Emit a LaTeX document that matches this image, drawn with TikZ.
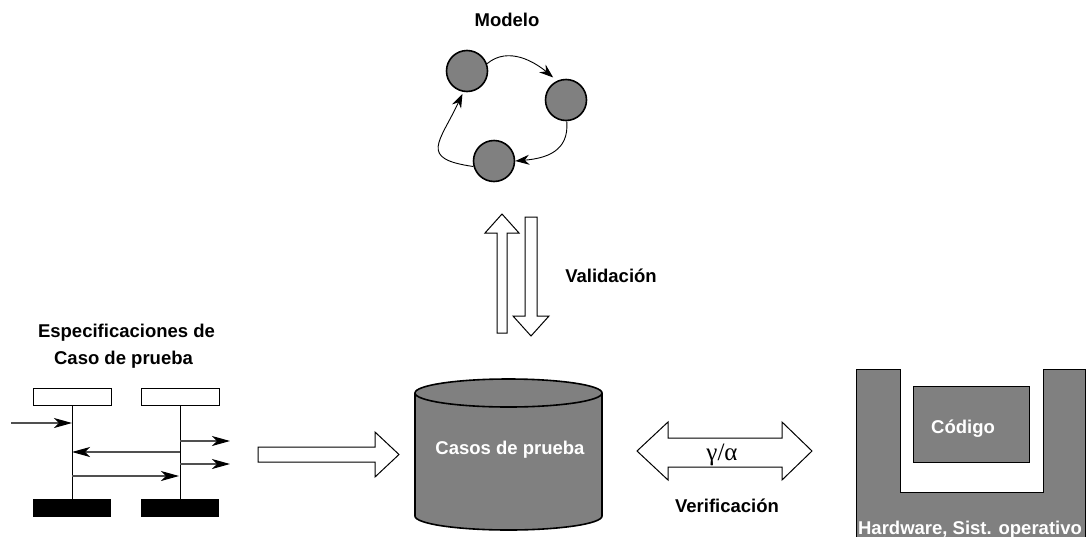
\documentclass[tikz,border=0pt]{standalone}
\usepackage{fontspec}
\setmainfont{Liberation Sans}
\newfontfamily\greekserif{Liberation Serif}
\usetikzlibrary{arrows.meta}
\definecolor{gfill}{HTML}{808080}
\definecolor{msggray}{HTML}{505050}
\tikzset{
  lbl/.style={font=\bfseries\fontsize{18.5}{22}\selectfont, inner sep=0pt, anchor=base},
  wlbl/.style={lbl, text=white},
  state/.style={circle, draw, line width=1.6pt, fill=gfill, minimum size=41pt, inner sep=0pt},
  loop/.style={line width=0.9pt, -{Stealth[length=14pt,width=10pt]}},
  blockarrow/.style={draw, line width=1pt, fill=white, line join=miter},
  lifebox/.style={draw, line width=0.9pt, fill=white, minimum width=78pt, minimum height=17pt, inner sep=0pt},
  lifebar/.style={fill=black, minimum width=78pt, minimum height=18pt, inner sep=0pt},
  msg/.style={draw=msggray, line width=1.1pt, -{Stealth[length=18pt,width=10pt,inset=5pt,black]}}
}
\begin{document}
\begin{tikzpicture}[x=1pt,y=-1pt]
\useasboundingbox (0,0) rectangle (1086,536);

% ---------- state model ----------
\node[lbl] (modelo) at (507,26) {Modelo};
\node[state] (c1) at (467,71) {};
\node[state] (c2) at (566,100) {};
\node[state] (c3) at (494,161) {};
\draw[loop, shorten >=5pt] (c1.20) to[out=40, in=140] (c2.115);
\draw[loop] (c2.-88) to[out=-85, in=5, looseness=1.2] (c3.east);
\draw[loop, shorten >=2pt] (c3.195) to[out=172, in=-115, looseness=1.9] (c1.-100);

% ---------- validation arrows ----------
\draw[blockarrow] (497,333) -- (497,233) -- (485,233) -- (502,214) -- (519,233)
  -- (507,233) -- (507,333) -- cycle;
\draw[blockarrow] (525,217) -- (525,316) -- (513,316) -- (531,336) -- (549,316)
  -- (537,316) -- (537,217) -- cycle;
\node[lbl] (valid) at (611,282) {Validación};

% ---------- test case store ----------
\fill[gfill] (415,393) -- (415,516) arc[start angle=180, end angle=0, x radius=93.5, y radius=14]
  -- (602,393) -- cycle;
\draw[line width=1.6pt] (415,393) -- (415,516) arc[start angle=180, end angle=0, x radius=93.5, y radius=14]
  -- (602,393);
\draw[line width=1.6pt, fill=gfill] (508.5,393) ellipse[x radius=93.5, y radius=14];
\node[wlbl] (db) at (510,454) {Casos de prueba};

% ---------- test case specification ----------
\node[lbl] (spec1) at (126.5,337.5) {Especificaciones de};
\node[lbl] (spec2) at (123.5,364) {Caso de prueba};
\node[lifebox] (h1) at (72,396.5) {};
\node[lifebox] (h2) at (180,396.5) {};
\node[lifebar] (f1) at (72,508) {};
\node[lifebar] (f2) at (180,508) {};
\draw[line width=0.9pt] (h1.south) -- (f1.north);
\draw[line width=0.9pt] (h2.south) -- (f2.north);
\coordinate (in0) at (11,423);
\coordinate (out1) at (230,441);
\coordinate (out2) at (230,464);
\coordinate (row1) at (0,452);
\coordinate (row2) at (0,476);
\draw[msg] (in0) -- (h1.south |- in0);
\draw[msg] (h2.south |- out1) -- (out1);
\draw[msg] (h2.south |- out2) -- (out2);
\draw[msg] (h2.south |- row1) -- (h1.south |- row1);
\draw[msg, shorten >=1pt] (h1.south |- row2) -- (h2.south |- row2);

% feed arrow into the store
\draw[blockarrow] (258,447) -- (375,447) -- (375,432) -- (399,454.5) -- (375,477)
  -- (375,462) -- (258,462) -- cycle;

% ---------- verification ----------
\draw[blockarrow] (637,451) -- (668,422) -- (668,438) -- (782,438) -- (782,422) -- (812,451)
  -- (782,480) -- (782,467) -- (668,467) -- (668,480) -- cycle;
\node[inner sep=0pt, anchor=base, font=\greekserif\fontsize{25}{28}\selectfont] (ga) at (722,460) {γ/α};
\node[lbl] (verif) at (727,512.5) {Verificación};

% ---------- platform ----------
\draw[line width=1pt, fill=gfill] (856,369) -- (900,369) -- (900,492) -- (1043,492) -- (1043,369)
  -- (1085,369) -- (1085,537) -- (856,537) -- cycle;
\node[draw, line width=1pt, fill=gfill, minimum width=116pt, minimum height=76pt, inner sep=0pt] (code) at (971,424) {};
\node[wlbl] (codetxt) at (963,433) {Código};
\node[wlbl] (hw) at (970,534) {Hardware, Sist. operativo};
\end{tikzpicture}
\end{document}
